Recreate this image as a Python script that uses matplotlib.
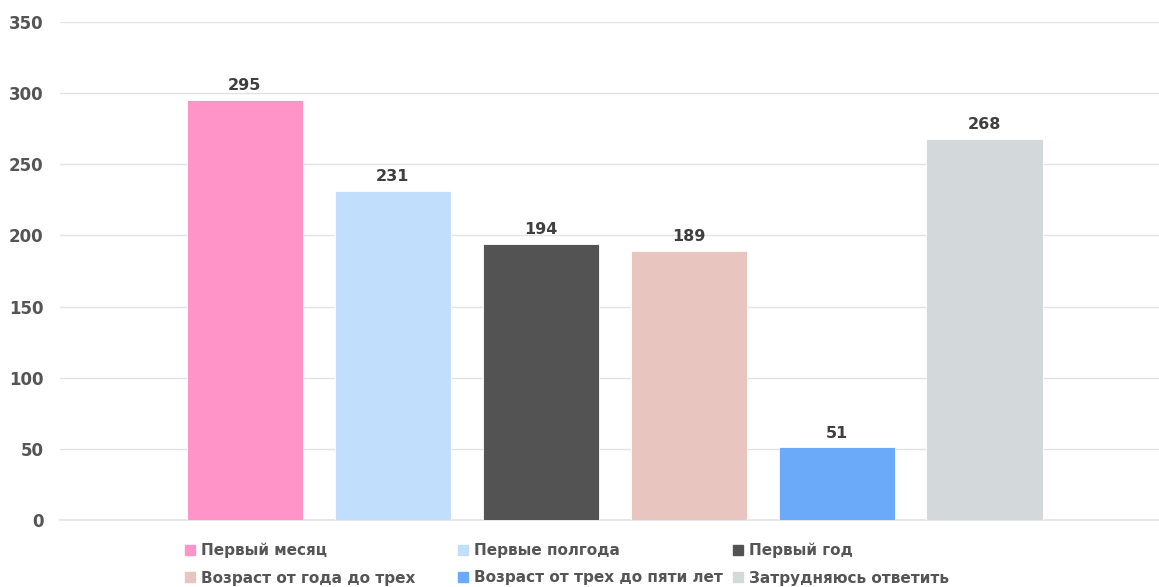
import matplotlib.pyplot as plt
from matplotlib.patches import Patch

# данные
categories = ['Первый месяц', 'Первые полгода', 'Первый год',
              'Возраст от года до трех', 'Возраст от трех до пяти лет',
              'Затрудняюсь ответить']
values = [295, 231, 194, 189, 51, 268]
colors = ['#FF94C8', '#C2DEFD', '#535353', '#E8C6BF', '#6AAAF8', '#D3D8DB']
yticks = [0, 50, 100, 150, 200, 250, 300, 350]

plt.rcParams['font.family'] = ['DejaVu Sans']
plt.rcParams['font.weight'] = 'bold'

fig = plt.figure(figsize=(11.59, 5.87), dpi=100)
ax = fig.add_axes([0.0518, 0.1141, 0.9482, 0.8484])

x = list(range(len(values)))
bars = ax.bar(x, values, width=0.785, color=colors, edgecolor='white', linewidth=0.6, zorder=3)
ax.bar_label(bars, labels=[str(v) for v in values], padding=5,
             fontsize=11.5, fontweight='bold', color='#3f3f3f')

ax.set_ylim(0, 350)
ax.set_xlim(-1.25, 6.18)
ax.set_yticks(yticks)
ax.set_yticklabels([str(t) for t in yticks], fontsize=12, fontweight='bold', color='#555555')
ax.set_xticks([])
ax.tick_params(axis='y', length=0, pad=12)
ax.grid(axis='y', color='#e3e3e3', linewidth=1, zorder=0)
ax.axhline(0, color='#e3e3e3', linewidth=1.2, zorder=2, clip_on=False)
for s in ax.spines.values():
    s.set_visible(False)

# легенда: три колонки фиксированной ширины
handles = [Patch(color=c, label=l) for c, l in zip(colors, categories)]
col_x = [185 / 1159, 458 / 1159, 733 / 1159]
for i, cx in enumerate(col_x):
    fig.legend(handles=[handles[i], handles[i + 3]], loc='upper left',
               bbox_to_anchor=(cx, 1 - 543 / 587), frameon=False,
               handlelength=0.65, handleheight=0.65, handletextpad=0.4,
               borderpad=0, borderaxespad=0, labelspacing=0.8,
               prop={'size': 11, 'weight': 'bold'}, labelcolor='#555555')

fig.savefig('out.png', dpi=100)
